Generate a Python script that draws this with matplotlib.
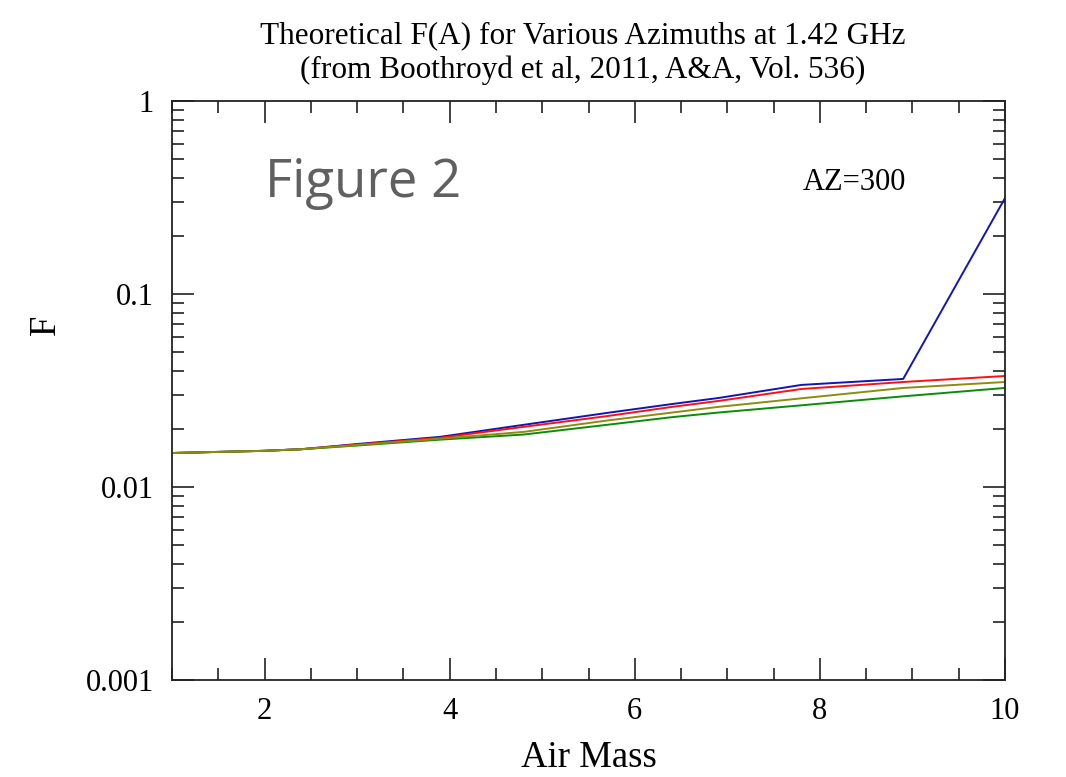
import matplotlib
matplotlib.use("Agg")
import matplotlib.pyplot as plt
from matplotlib.ticker import LogLocator, NullFormatter, MultipleLocator

air_mass = [1.0, 1.5, 2.0, 2.4, 3.0, 3.9, 4.8, 5.7, 6.4, 6.9, 7.8, 8.9, 10.0]
f_blue = [0.0150, 0.0152, 0.0154, 0.0157, 0.0167, 0.0182, 0.0210, 0.0242, 0.0269, 0.0289, 0.0338, 0.0363, 0.314]
f_red = [0.0150, 0.0152, 0.0154, 0.0157, 0.0166, 0.0180, 0.0205, 0.0233, 0.0260, 0.0279, 0.0322, 0.0350, 0.0376]
f_olive = [0.0150, 0.0152, 0.0154, 0.0157, 0.0165, 0.0178, 0.0193, 0.0221, 0.0243, 0.0260, 0.0288, 0.0326, 0.0350]
f_green = [0.0150, 0.0152, 0.0154, 0.0157, 0.0164, 0.0176, 0.0187, 0.0210, 0.0230, 0.0243, 0.0265, 0.0295, 0.0326]

title = "Theoretical F(A) for Various Azimuths at 1.42 GHz\n(from Boothroyd et al, 2011, A&A, Vol. 536)"
xlabel = "Air Mass"
ylabel = "F"
ytick_vals = [0.001, 0.01, 0.1, 1]
ytick_labels = ["0.001", "0.01", "0.1", "1"]
xtick_vals = [2, 4, 6, 8, 10]

plt.rcParams['font.family'] = ['Liberation Serif', 'DejaVu Serif']

fig = plt.figure(figsize=(10.66, 7.77), dpi=100)
ax = fig.add_axes([172/1066, 1-680/777, (1005-172)/1066, (680-101)/777])

lw = 1.4
ax.plot(air_mass, f_blue, color='#1414b4', lw=lw)
ax.plot(air_mass, f_red, color='#ff1010', lw=lw)
ax.plot(air_mass, f_green, color='#0a8c0a', lw=lw)
ax.plot(air_mass, f_olive, color='#8c8c10', lw=lw)

ax.set_yscale('log')
ax.set_xlim(1, 10)
ax.set_ylim(0.001, 1)

ax.set_yticks(ytick_vals)
ax.set_yticklabels(ytick_labels)
ax.yaxis.set_minor_locator(LogLocator(base=10, subs=range(2, 10)))
ax.yaxis.set_minor_formatter(NullFormatter())
ax.set_xticks(xtick_vals)
ax.xaxis.set_minor_locator(MultipleLocator(0.5))

ax.tick_params(which='both', direction='in', top=True, right=True, width=1.2, colors='#222222',
               labelcolor='black')
ax.tick_params(which='major', length=15.5)
ax.tick_params(which='minor', length=8.5)
ax.tick_params(axis='y', which='major', labelsize=22, pad=13)
ax.tick_params(axis='x', which='major', labelsize=22, pad=12)
for s in ax.spines.values():
    s.set_linewidth(1.3)
    s.set_color('#222222')

ax.set_xlabel(xlabel, fontsize=26.5, labelpad=11)
ax.set_ylabel(ylabel, fontsize=26.5)
ax.yaxis.set_label_coords((63-172)/833, (680-325)/579)

fig.text(583/1066, 1-53/777, title, ha='center', va='center', fontsize=22.5, linespacing=1.21)

fig.text(265/1066, 1-183/777, "Figure 2", family='Open Sans', fontsize=38, color='#606060',
         ha='left', va='center')
fig.text(803/1066, 1-183/777, "AZ=300", fontsize=22, color='black', ha='left', va='center')

fig.savefig("out.png", dpi=100)
